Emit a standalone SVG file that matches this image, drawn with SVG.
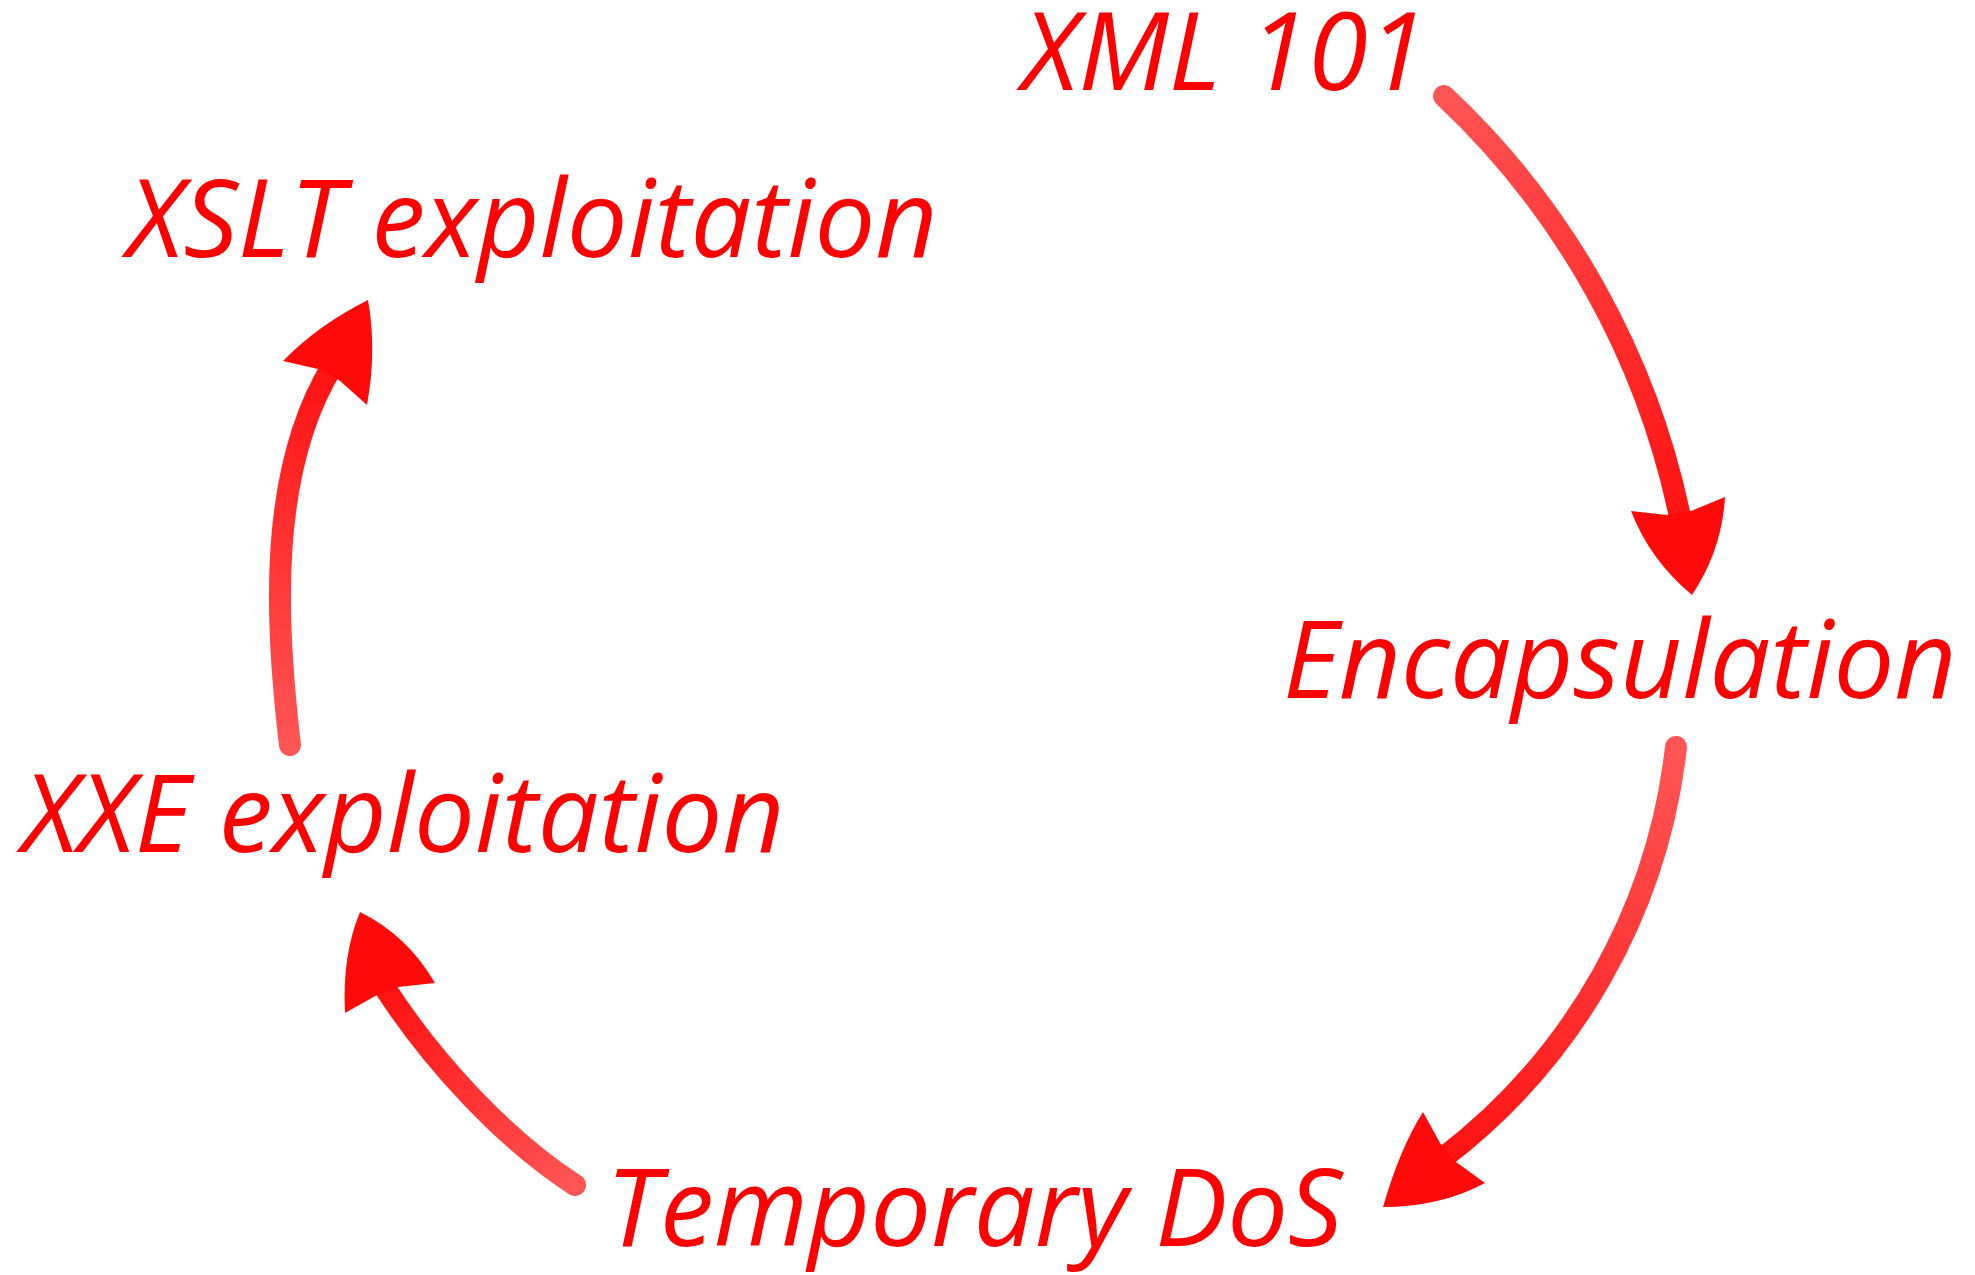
<svg xmlns="http://www.w3.org/2000/svg" width="1975" height="1275" viewBox="0 0 1975 1275">
  <style>
    .lbl { font-family: "Open Sans", "Noto Sans", "DejaVu Sans", sans-serif; font-style: italic; font-size: 108px; fill: #ff0000; }
    .shaft { fill: none; stroke-width: 22; stroke-linecap: round; }
    .head { fill: #ff0a0a; }
  </style>
  <defs>
    <linearGradient id="g1" gradientUnits="userSpaceOnUse" x1="1444" y1="96" x2="1680" y2="520">
      <stop offset="0" stop-color="#ff5555"/>
      <stop offset="1" stop-color="#ff1212"/>
    </linearGradient>
    <linearGradient id="g2" gradientUnits="userSpaceOnUse" x1="1676" y1="747" x2="1445" y2="1157">
      <stop offset="0" stop-color="#ff5555"/>
      <stop offset="1" stop-color="#ff1212"/>
    </linearGradient>
    <linearGradient id="g3" gradientUnits="userSpaceOnUse" x1="575" y1="1185" x2="388" y2="990">
      <stop offset="0" stop-color="#ff5555"/>
      <stop offset="1" stop-color="#ff1212"/>
    </linearGradient>
    <linearGradient id="g4" gradientUnits="userSpaceOnUse" x1="290" y1="745" x2="330" y2="370">
      <stop offset="0" stop-color="#ff5555"/>
      <stop offset="1" stop-color="#ff1212"/>
    </linearGradient>
  </defs>
  <rect width="1975" height="1275" fill="#ffffff"/>

  <g id="connectors">
    <g id="c1">
      <path class="shaft" stroke="url(#g1)" d="M1444,96 A800,800 0 0 1 1681,522"/>
      <path class="head" d="M1631,511 L1667,515 L1691,511 L1725,497 Q1722,550 1692,595 Q1650,560 1631,511 Z"/>
    </g>
    <g id="c2">
      <path class="shaft" stroke="url(#g2)" d="M1676,747 A600,600 0 0 1 1443,1158"/>
      <path class="head" d="M1423,1112 L1440,1143 L1456,1162 L1485,1183 Q1440,1207 1383,1207 Q1400,1148 1423,1112 Z"/>
    </g>
    <g id="c3">
      <path class="shaft" stroke="url(#g3)" d="M575,1185 C504,1139 433,1062 385,988"/>
      <path class="head" d="M345,1013 L377,995 L398,987 L435,983 Q407,935 360,912 Q342,955 345,1013 Z"/>
    </g>
    <g id="c4">
      <path class="shaft" stroke="url(#g4)" d="M290,745 C275,620 268,470 333,365"/>
      <path class="head" d="M283,361 L318,369 L339,380 L367,405 Q377,350 368,300 Q318,325 283,361 Z"/>
    </g>
  </g>

  <g id="node-xml101"><text class="lbl" x="1022" y="90">XML 101</text></g>
  <g id="node-encapsulation"><text class="lbl" x="1283" y="698">Encapsulation</text></g>
  <g id="node-temporary-dos"><text class="lbl" x="606" y="1246">Temporary DoS</text></g>
  <g id="node-xxe"><text class="lbl" x="22" y="852">XXE exploitation</text></g>
  <g id="node-xslt"><text class="lbl" x="127" y="257">XSLT exploitation</text></g>
</svg>
